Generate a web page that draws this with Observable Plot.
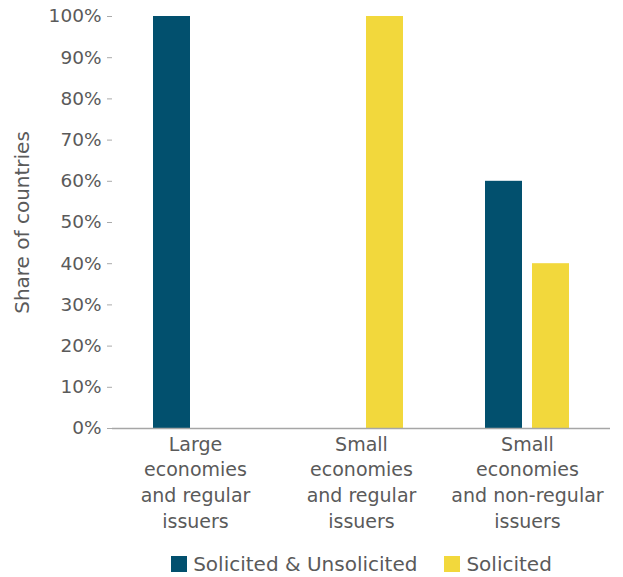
<!DOCTYPE html>
<html>
<head>
<meta charset="utf-8">
<script src="https://cdn.jsdelivr.net/npm/d3@7"></script>
<script src="https://cdn.jsdelivr.net/npm/@observablehq/plot@0.6"></script>
<style>
  html, body { margin: 0; padding: 0; background: #fff; }
  body { width: 623px; height: 577px; overflow: hidden; font-family: "DejaVu Sans", sans-serif; color: #5a5a5a; }
  #chart svg { display: block; }
  #legend { display: flex; justify-content: center; align-items: center; gap: 27px; margin-top: 12px; padding-left: 100px; font-size: 20px; }
  .item { display: flex; align-items: center; gap: 6px; }
  .sw { width: 16px; height: 16px; display: inline-block; }
</style>
</head>
<body>
<div id="chart"></div>
<div id="legend"></div>
<script>
const groups = ["Large\neconomies\nand regular\nissuers", "Small\neconomies\nand regular\nissuers", "Small\neconomies\nand non-regular\nissuers"];
const series = ["Solicited & Unsolicited", "Solicited"];
const solicitedUnsolicited = [1.0, 0.0, 0.6];
const solicitedOnly = [0.0, 1.0, 0.4];
const yTicks = [0, 0.1, 0.2, 0.3, 0.4, 0.5, 0.6, 0.7, 0.8, 0.9, 1.0];
const colors = ["#02506e", "#f2d83c"];

const data = [];
groups.forEach((g, i) => {
  data.push({group: g, series: series[0], value: solicitedUnsolicited[i]});
  data.push({group: g, series: series[1], value: solicitedOnly[i]});
});

const plot = Plot.plot({
  width: 623,
  height: 540,
  marginLeft: 112,
  marginRight: 13,
  marginTop: 16,
  marginBottom: 112,
  style: {fontFamily: "DejaVu Sans, sans-serif", fontSize: "19px", color: "#5a5a5a"},
  fx: {domain: groups, padding: 0, label: null},
  x: {domain: series, paddingInner: 0.213, paddingOuter: 0.872, axis: null},
  y: {domain: [0, 1]},
  color: {domain: series, range: colors},
  marks: [
    Plot.axisFx({anchor: "bottom", tickSize: 0, tickPadding: 4, lineHeight: 1.35, fontSize: 19, label: null}),
    Plot.axisY({ticks: [], label: "Share of countries", labelAnchor: "center", labelArrow: "none", labelOffset: 98, fontSize: 20}),
    Plot.axisY({ticks: yTicks, tickFormat: d3.format(".0%"), tickSize: 5, tickPadding: 6, stroke: "#aaa", fontSize: 18.5, label: null}),
    Plot.barY(data, {fx: "group", x: "series", y: "value", fill: "series"}),
    Plot.ruleY([0], {stroke: "#a6a6a6", strokeWidth: 1.5})
  ]
});
document.getElementById("chart").appendChild(plot);

const legend = document.getElementById("legend");
series.forEach((s, i) => {
  const it = document.createElement("div");
  it.className = "item";
  const sw = document.createElement("span");
  sw.className = "sw";
  sw.style.background = colors[i];
  const t = document.createElement("span");
  t.textContent = s;
  it.appendChild(sw); it.appendChild(t);
  legend.appendChild(it);
});
</script>
</body>
</html>
